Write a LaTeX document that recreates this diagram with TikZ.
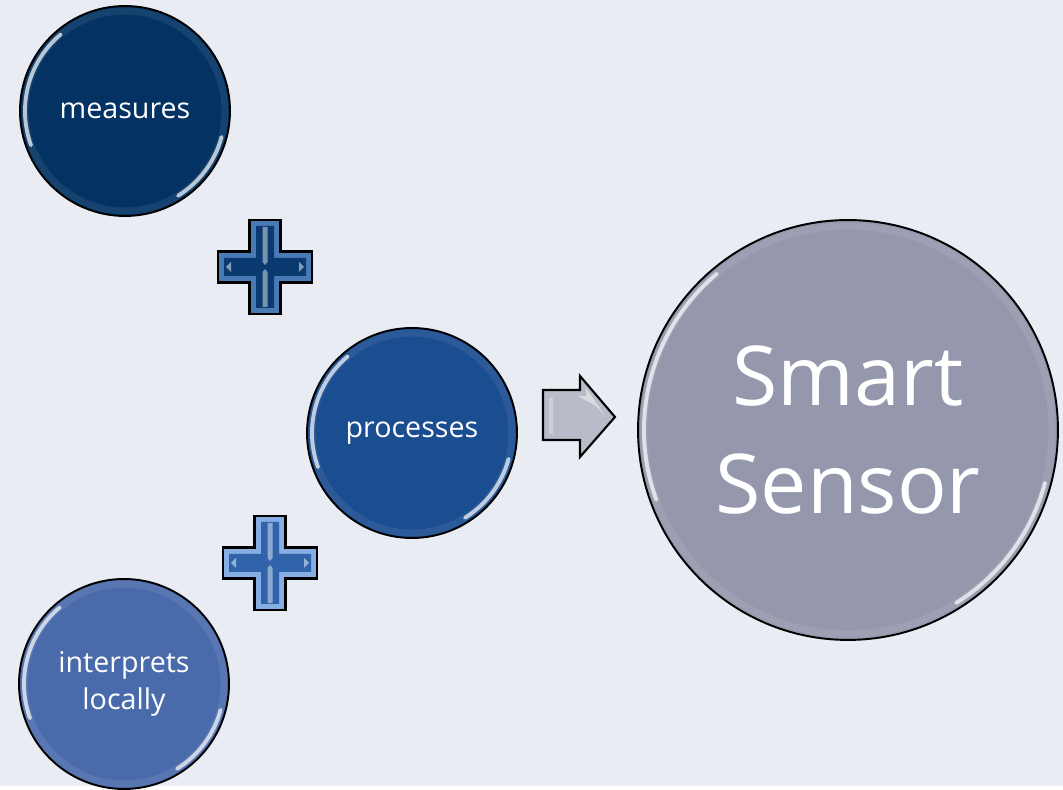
\documentclass[tikz,border=0pt]{standalone}
\usepackage{fontspec}
\setmainfont{Open Sans}
\usepackage{xcolor}
\usetikzlibrary{positioning}
\definecolor{bgpanel}{HTML}{E9ECF2}
\definecolor{navyball}{HTML}{033263}
\definecolor{blueball}{HTML}{1B4D91}
\definecolor{paleball}{HTML}{4A6BAB}
\definecolor{greyball}{HTML}{9598AC}
\definecolor{navyface}{HTML}{0B3A70}
\definecolor{navybevel}{HTML}{4A7AB6}
\definecolor{paleface}{HTML}{3063AA}
\definecolor{palebevel}{HTML}{86AEE2}
\definecolor{silver}{HTML}{B8BCC8}
\tikzstyle{ball} = [circle, draw=black, line width=1.1pt, text=white, align=center, inner sep=0pt, minimum size=4.2cm, font=\fontsize{16.3}{21}\selectfont]
\tikzstyle{gloss} = [white, line cap=round, opacity=0.7, line width=2.2pt]
\tikzstyle{rim} = [white, opacity=0.08, line width=4pt]

% white shine on a ball: node, radius
\newcommand{\shine}[2]{%
  \draw[rim] (#1.center) circle[radius=#2];
  \draw[gloss] (#1.center) ++(130:#2) arc[start angle=130, end angle=200, radius=#2];
  \draw[gloss] (#1.center) ++(-15:#2) arc[start angle=-15, end angle=-58, radius=#2];
}
% bevelled plus: centre, bevel colour, face colour
\newcommand{\plussign}[3]{%
  \begin{scope}[shift={#1}]
    \filldraw[fill=#2, draw=black, line width=1.2pt]
      (-15.5,47) -- (15.5,47) -- (15.5,15.5) -- (47,15.5) -- (47,-15.5) -- (15.5,-15.5)
      -- (15.5,-47) -- (-15.5,-47) -- (-15.5,-15.5) -- (-47,-15.5) -- (-47,15.5) -- (-15.5,15.5) -- cycle;
    \fill[#3]
      (-9,41) -- (9,41) -- (9,9) -- (41,9) -- (41,-9) -- (9,-9)
      -- (9,-41) -- (-9,-41) -- (-9,-9) -- (-41,-9) -- (-41,9) -- (-9,9) -- cycle;
    \fill[white, opacity=0.45] (-2.5,40) -- (2.5,40) -- (2.5,5) -- (0,2) -- (-2.5,5) -- cycle;
    \fill[white, opacity=0.45] (-2.5,-40) -- (2.5,-40) -- (2.5,-5) -- (0,-2) -- (-2.5,-5) -- cycle;
    \fill[white, opacity=0.5] (-39,0) -- (-34,5) -- (-34,-5) -- cycle;
    \fill[white, opacity=0.5] (39,0) -- (34,5) -- (34,-5) -- cycle;
  \end{scope}
}

\begin{document}
\begin{tikzpicture}[x=0.02cm, y=0.02cm]
\fill[bgpanel] (0,0) rectangle (1063,786);

\node[ball, fill=navyball] (measures) at (125,675) {measures};
\node[ball, fill=blueball] (processes) at (412,353) {processes};
\node[ball, fill=paleball] (interprets) at (124,102) {interprets\\locally};
\node[ball, fill=greyball, minimum size=8.4cm, font=\fontsize{47}{62}\selectfont] (sensor) at (848,356) {Smart\\Sensor};

\shine{measures}{100}
\shine{processes}{100}
\shine{interprets}{100}
\shine{sensor}{204}

\plussign{(265,519)}{navybevel}{navyface}
\plussign{(270,223)}{palebevel}{paleface}

% arrow towards the sensor
\filldraw[fill=silver, draw=black, line width=1.2pt]
  (543,396) -- (580,396) -- (580,410) -- (615,369) -- (580,329) -- (580,346) -- (543,346) -- cycle;
\fill[white, opacity=0.45] (549,390) -- (586,390) -- (586,398) -- (606,369) -- (596,380) -- (578,390) -- cycle;
\fill[white, opacity=0.3] (549,352) -- (553,352) -- (553,388) -- (549,388) -- cycle;
\end{tikzpicture}
\end{document}
